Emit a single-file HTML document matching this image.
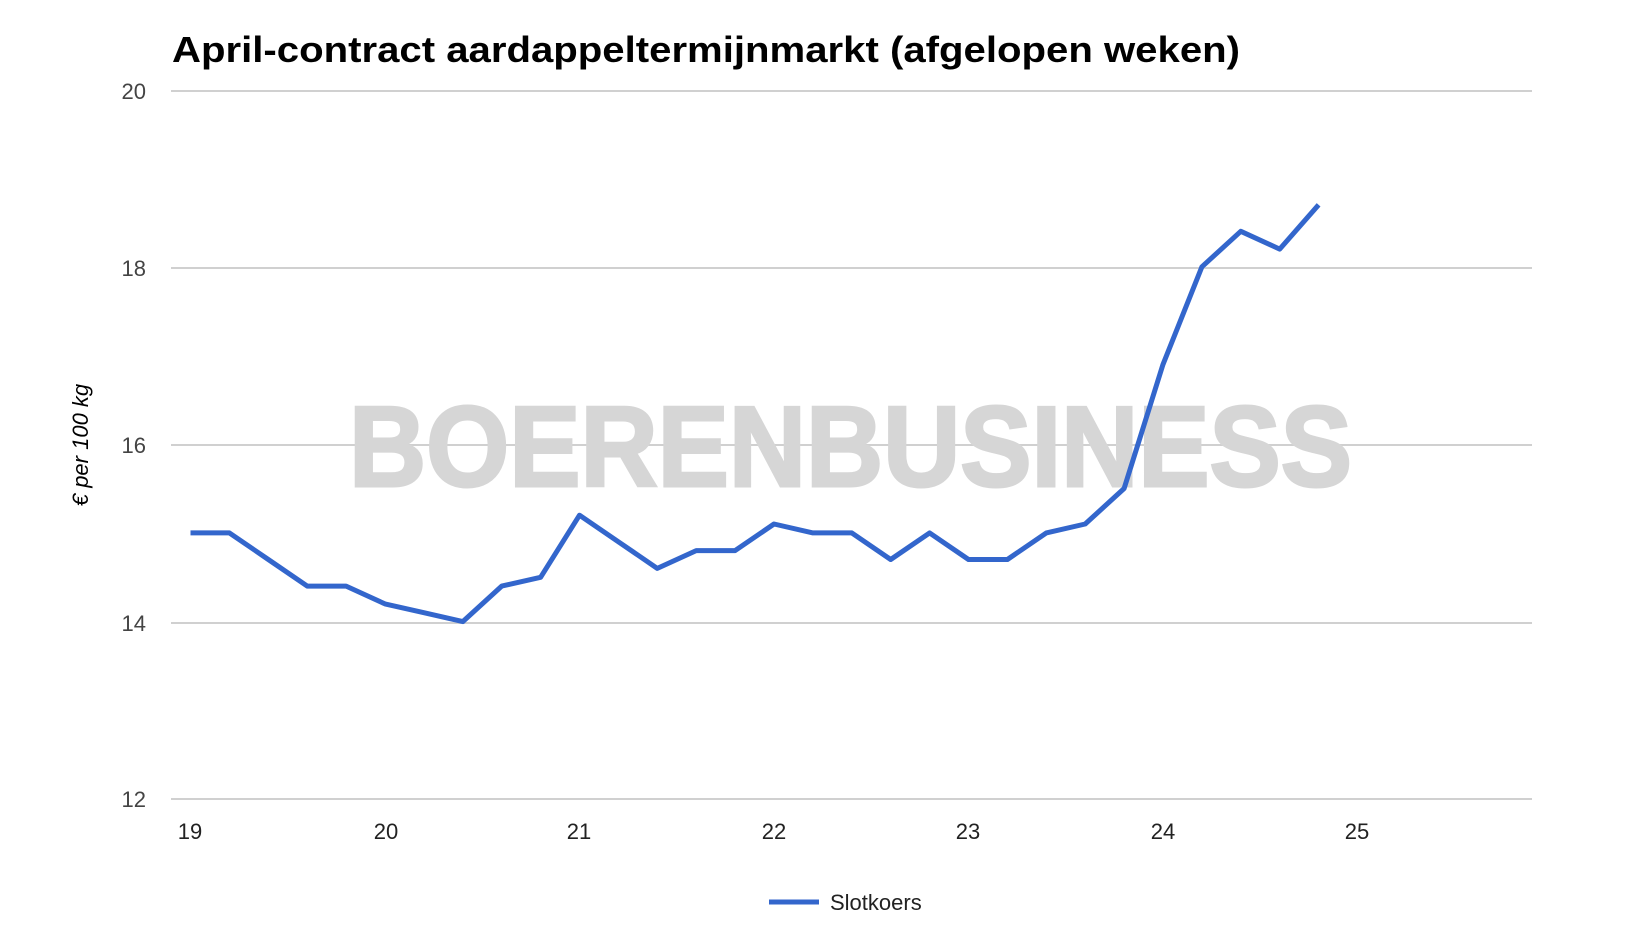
<!DOCTYPE html>
<html><head><meta charset="utf-8"><style>body{margin:0;background:#fff}svg{display:block}</style></head><body>
<svg width="1638" height="946" xmlns="http://www.w3.org/2000/svg" font-family="Liberation Sans, sans-serif">
<text x="172" y="62" font-size="36" font-weight="bold" fill="#000" textLength="1068" lengthAdjust="spacingAndGlyphs">April-contract aardappeltermijnmarkt (afgelopen weken)</text>
<g stroke="#d0d0d0" stroke-width="2">
<line x1="171" x2="1532" y1="91" y2="91"/><line x1="171" x2="1532" y1="268" y2="268"/><line x1="171" x2="1532" y1="445" y2="445"/><line x1="171" x2="1532" y1="623" y2="623"/><line x1="171" x2="1532" y1="799" y2="799"/>
</g>
<g font-size="22" fill="#444" text-anchor="end">
<text x="146" y="99">20</text><text x="146" y="276">18</text><text x="146" y="453">16</text><text x="146" y="631">14</text><text x="146" y="807">12</text>
</g>
<g font-size="22" fill="#222" text-anchor="middle">
<text x="190" y="839">19</text><text x="386" y="839">20</text><text x="579" y="839">21</text><text x="774" y="839">22</text><text x="968" y="839">23</text><text x="1163" y="839">24</text><text x="1357" y="839">25</text>
</g>
<text transform="translate(88,445) rotate(-90)" font-size="22" font-style="italic" fill="#000" text-anchor="middle">€ per 100 kg</text>
<text x="349" y="486" font-size="114" font-weight="bold" fill="#d6d6d6" stroke="#d6d6d6" stroke-width="3" textLength="1003" lengthAdjust="spacingAndGlyphs">BOERENBUSINESS</text>
<polyline fill="none" stroke="#3366cc" stroke-width="5" stroke-linejoin="round" points="190.5,532.9 229.4,532.9 268.3,559.5 307.2,586.1 346.1,586.1 385,603.9 423.9,612.7 462.8,621.6 501.7,586.1 540.6,577.3 579.5,515.2 618.4,541.8 657.3,568.4 696.2,550.6 735.1,550.6 774,524 812.9,532.9 851.8,532.9 890.7,559.5 929.6,532.9 968.5,559.5 1007.4,559.5 1046.3,532.9 1085.2,524 1124.1,488.5 1163,364.4 1201.9,266.8 1240.8,231.3 1279.7,249.1 1318.6,204.8"/>
<line x1="769" x2="819" y1="902" y2="902" stroke="#3366cc" stroke-width="5"/>
<text x="830" y="910" font-size="22" fill="#222">Slotkoers</text>
</svg>
</body></html>
